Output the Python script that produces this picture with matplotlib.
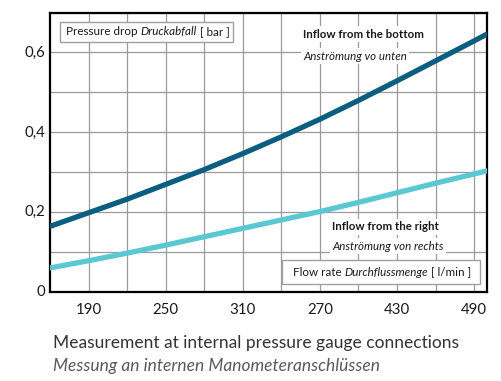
import matplotlib
matplotlib.use("Agg")
import matplotlib.pyplot as plt
from matplotlib.patches import Rectangle

# ---- data ----
flow = [160, 190, 220, 250, 280, 310, 340, 370, 400, 430, 460, 490, 500]
dp_bottom = [0.165, 0.199, 0.233, 0.270, 0.307, 0.347, 0.389, 0.433, 0.480, 0.529, 0.579, 0.629, 0.646]
dp_right = [0.061, 0.079, 0.098, 0.118, 0.139, 0.160, 0.181, 0.202, 0.225, 0.249, 0.273, 0.296, 0.304]
xtick_vals = [190, 250, 310, 370, 430, 490]
xtick_labels = ["190", "250", "310", "270", "430", "490"]
ytick_vals = [0, 0.2, 0.4, 0.6]
ytick_labels = ["0", "0,2", "0,4", "0,6"]

FONT = "Lato"
plt.rcParams['font.family'] = [FONT, 'DejaVu Sans']

W, H = 502, 381
fig = plt.figure(figsize=(W / 100, H / 100), dpi=100)
ax = fig.add_axes([50 / W, (H - 292.3) / H, 437 / W, (292.3 - 12.5) / H])

ax.set_xlim(160, 500)
ax.set_ylim(0, 0.7)
ax.set_xticks(list(range(190, 491, 30)))
ax.set_yticks([i / 10 for i in range(0, 8)])
ax.grid(True, color="#9a9a9a", linewidth=0.9)
ax.set_axisbelow(True)
ax.tick_params(length=0, labelbottom=False, labelleft=False)
for s in ax.spines.values():
    s.set_color("black")
    s.set_linewidth(1.6)

ax.plot(flow, dp_bottom, color="#0b5e80", linewidth=3.8, solid_capstyle="round",
        solid_joinstyle="round", zorder=3)
ax.plot(flow, dp_right, color="#5ac8d1", linewidth=3.8, solid_capstyle="round",
        solid_joinstyle="round", zorder=3)

# tick labels as text (custom positions)
for v, lab in zip(xtick_vals, xtick_labels):
    ax.text(v, -0.028, lab, ha="center", va="top", fontsize=10.8, color="#1a1a1a", clip_on=False)
for v, lab in zip(ytick_vals, ytick_labels):
    ax.text(156, v, lab, ha="right", va="center", fontsize=10.8, color="#1a1a1a", clip_on=False)

fig.canvas.draw()
renderer = fig.canvas.get_renderer()

def seq_text(x_px, y_px, parts, size, color="#1a1a1a"):
    x = x_px
    for txt, style, weight in parts:
        t = fig.text(x / W, 1 - y_px / H, txt, fontsize=size, style=style, weight=weight,
                     color=color, ha="left", va="center", zorder=6)
        bb = t.get_window_extent(renderer)
        x = bb.x1
    return x

# Box 1: pressure drop
fig.patches.append(Rectangle((60 / W, 1 - 42 / H), (233 - 60) / W, 20 / H, transform=fig.transFigure,
                             facecolor="white", edgecolor="#a0a0a0", linewidth=1.0, zorder=5))
seq_text(66, 31.5, [("Pressure drop ", "normal", "normal"), ("Druckabfall", "italic", "normal"),
                    (" [ bar ]", "normal", "normal")], 8.4)

# Box 2: flow rate
fig.patches.append(Rectangle((282 / W, 1 - 284 / H), (480 - 282) / W, 24 / H, transform=fig.transFigure,
                             facecolor="white", edgecolor="#a0a0a0", linewidth=1.0, zorder=5))
seq_text(293, 272, [("Flow rate ", "normal", "normal"), ("Durchflussmenge", "italic", "normal"),
                    (" [ l/min ]", "normal", "normal")], 8.4)

def label(x_px, y_px, txt, style, weight):
    fig.text(x_px / W, 1 - y_px / H, txt, fontsize=8.3, style=style, weight=weight, color="#1a1a1a",
             ha="left", va="center", zorder=6,
             bbox=dict(facecolor="white", edgecolor="none", pad=1.5))

label(303, 34, "Inflow from the bottom", "normal", "bold")
label(303, 56, "Anströmung vo unten", "italic", "normal")
label(332, 227, "Inflow from the right", "normal", "bold")
label(332, 246, "Anströmung von rechts", "italic", "normal")

# caption
fig.text(53 / W, 1 - 343 / H, "Measurement at internal pressure gauge connections", fontsize=12.5,
         color="#333333", ha="left", va="center")
fig.text(53 / W, 1 - 366 / H, "Messung an internen Manometeranschlüssen", fontsize=12.5,
         style="italic", color="#595959", ha="left", va="center")

fig.savefig("out.png", dpi=100)
